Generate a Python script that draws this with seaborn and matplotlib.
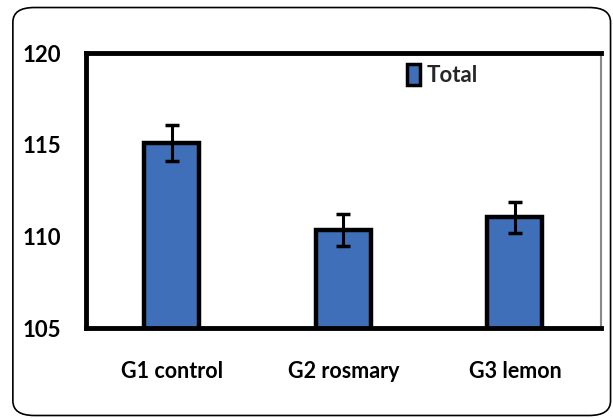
import numpy as np
import pandas as pd
import matplotlib.pyplot as plt
import seaborn as sns
from matplotlib.patches import FancyBboxPatch

# data
groups = ['G1 control', 'G2 rosmary', 'G3 lemon']
totals = [115.1, 110.35, 111.05]
errors = [1.0, 0.88, 0.85]
y_ticks = [105, 110, 115, 120]

df = pd.DataFrame({'group': groups, 'total': totals})

sns.set_style('white')
plt.rcParams['font.family'] = ['Lato', 'DejaVu Sans']

fig = plt.figure(figsize=(6.13, 4.18), dpi=100)
ax = fig.add_axes([0.140, 0.215, 0.840, 0.658])

sns.barplot(data=df, x='group', y='total', color='#3F6FB8', saturation=1, width=0.32,
            edgecolor='black', linewidth=3.2, label='Total', ax=ax, zorder=2)
ax.errorbar(x=np.arange(len(groups)), y=totals, yerr=errors, fmt='none',
            ecolor='black', elinewidth=2.2, capsize=5, capthick=2.5, zorder=3)

ax.set_ylim(105, 120)
ax.set_xlim(-0.5, 2.5)
ax.set_yticks(y_ticks)
ax.set_yticklabels([str(t) for t in y_ticks], fontsize=16, fontweight='bold', color='black')
ax.set_xticks(range(len(groups)))
ax.set_xticklabels(groups, fontsize=15.5, fontweight='bold', color='black')
ax.tick_params(axis='x', length=0, pad=24)
ax.tick_params(axis='y', length=0, pad=18)
ax.set_xlabel('')
ax.set_ylabel('')

for side in ['left', 'top', 'bottom']:
    ax.spines[side].set_linewidth(3.5)
    ax.spines[side].set_color('black')
ax.spines['right'].set_linewidth(1.5)
ax.spines['right'].set_color('#888888')

leg = ax.legend(loc='center left', bbox_to_anchor=(0.585, 0.92), frameon=False,
                handlelength=0.6, handleheight=1.1, handletextpad=0.3,
                prop={'weight': 'bold', 'size': 16})
for h in leg.legend_handles:
    h.set_linewidth(2.5)

# rounded outer frame
frame = FancyBboxPatch((0.021, 0.006), 0.975, 0.976, boxstyle='round,pad=0,rounding_size=0.035',
                       transform=fig.transFigure, fill=False, edgecolor='black',
                       linewidth=1.2, zorder=0)
fig.patches.append(frame)

fig.savefig('out.png', dpi=100)
